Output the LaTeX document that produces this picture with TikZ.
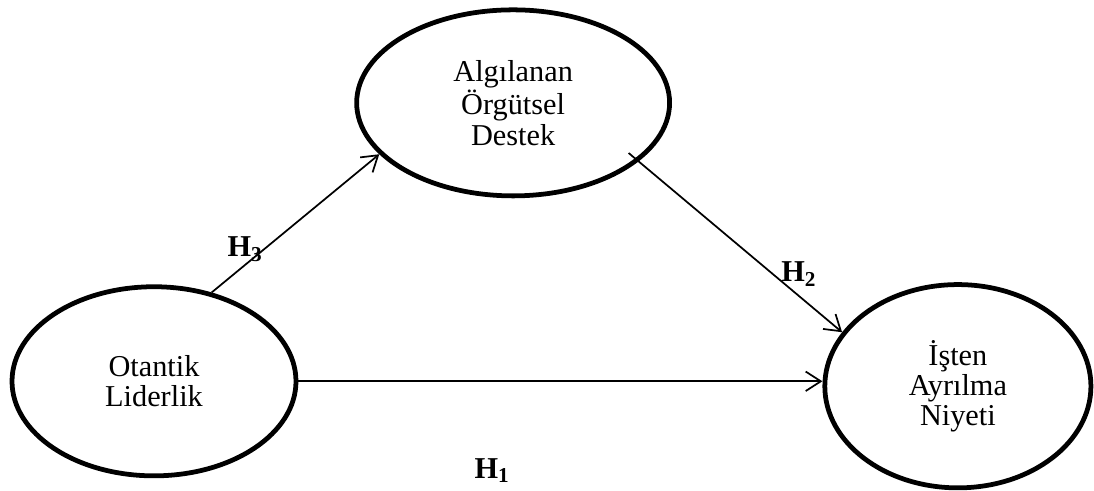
\documentclass[tikz,border=0pt]{standalone}
\usepackage{fontspec}
\setmainfont{Liberation Serif}
\usetikzlibrary{shapes.geometric,arrows.meta}

\newcommand{\hlabel}[1]{H\textsubscript{#1}}

\tikzset{
	construct/.style={shape=ellipse,draw=black,line width=2.2pt,inner sep=0pt,align=center,font=\fontsize{14}{14}\selectfont},
	hyp/.style={->,line width=0.8pt},
	hlab/.style={font=\fontsize{14}{14}\selectfont\bfseries,inner sep=1pt}
}

\begin{document}
\begin{tikzpicture}[>={Straight Barb[length=7pt,width=9pt]}]
	\useasboundingbox (0, 0) rectangle (17.76, 7.97);

	\node[construct,minimum width=5.08cm,minimum height=3.02cm] (aod) at (8.33, 6.30)  {Algılanan\\Örgütsel\\Destek};
	\node[construct,minimum width=4.61cm,minimum height=3.07cm] (ol)  at (2.50, 1.78)  {Otantik\\Liderlik};
	\node[construct,minimum width=4.32cm,minimum height=3.30cm] (ian) at (15.55, 1.70) {İşten\\Ayrılma\\Niyeti};

	\path[hyp] (ol.57)   edge node[pos=0.2,above,hlab]{\hlabel{3}} (aod.201);
	\path[hyp] (aod.-25) edge[shorten <=-6pt] node[pos=0.75,above right,xshift=-6pt,hlab]{\hlabel{2}} (ian.155);
	\path[hyp] (ol.east) edge node[pos=0.37,below=1.2cm,hlab]{\hlabel{1}} (ol.east -| ian.west);
\end{tikzpicture}
\end{document}
